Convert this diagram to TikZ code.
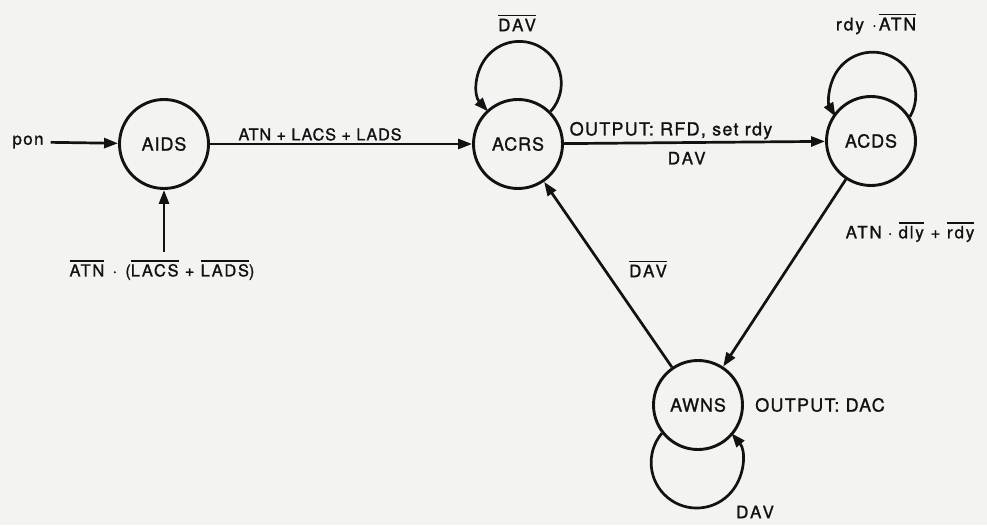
\documentclass[tikz,border=0pt]{standalone}
\usepackage{fontspec}
\setmainfont{TeX Gyre Heros}[LetterSpace=5,FakeBold=1.2]
\usetikzlibrary{arrows.meta,calc}
\definecolor{bg}{RGB}{243,243,241}
\definecolor{ink}{RGB}{18,18,18}
\newcommand\ov[1]{\leavevmode\vbox{\hrule height 1.6pt\kern 2.4pt\hbox{#1}}}
\newcommand\fsz[2]{\fontsize{#1}{#1}\selectfont\addfontfeatures{LetterSpace=#2}}
\begin{document}
\begin{tikzpicture}[x=1pt,y=1pt,
  state/.style={circle,draw=ink,line width=2.9pt,minimum size=89pt,inner sep=0pt,font=\fsz{18}{5},text=ink},
  lbl/.style={inner sep=1pt,font=\fsz{16.3}{5},text=ink},
  outl/.style={lbl,font=\fsz{18}{7}},
  davl/.style={lbl,font=\fsz{17}{14}},
  arr/.style={draw=ink,line width=2.7pt,-{Triangle[length=14pt,width=10pt]}}]
\fill[bg] (0,0) rectangle (987,525);
\useasboundingbox (0,0) rectangle (987,525);
% states
\node[state] (aids) at (164,381) {AIDS};
\node[state] (acrs) at (518,381) {ACRS};
\node[state] (acds) at (871,384) {ACDS};
\node[state] (awns) at (698,120) {AWNS};
% free labels
\node[lbl,font=\fsz{17}{8}] (pon) at (28,383) {pon};
\node[lbl,font=\fsz{16.5}{10}] (cond) at (162,255) {\ov{ATN}\hspace{2pt} · \hspace{2pt}(\ov{LACS} + \ov{LADS})};
\node[davl] (lacrs) at (517,502) {\ov{DAV}};
\node[lbl,font=\fsz{17.5}{11}] (lacds) at (876,501) {rdy\hspace{8pt}·\hspace{2pt}\ov{ATN}};
\node[lbl,font=\fsz{17}{11}] (ldown) at (910,293) {ATN\hspace{6pt}·\hspace{6pt}\ov{dly} + \ov{rdy}};
\node[davl] (lup) at (648,256) {\ov{DAV}};
\node[outl] (lout) at (820,120) {OUTPUT: DAC};
\node[davl] (lawns) at (755,13) {DAV};
% connectors
\draw[arr,shorten <=6pt] (pon) -- (aids);
\draw[arr,shorten <=7pt] (cond.north -| aids) -- (aids);
\draw[arr] (aids) -- node[lbl,pos=0.42,above=1pt]{ATN + LACS + LADS} (acrs);
\draw[arr] (acrs) -- node[outl,pos=0.41,above=1pt]{OUTPUT:\ RFD, set rdy}
                      node[davl,pos=0.47,below=7pt]{DAV} (acds);
\draw[arr] (acds) -- (awns);
\draw[arr] (awns) -- (acrs);
% self loops
\draw[arr] (acrs.45) arc[start angle=-42, end angle=222, radius=42];
\draw[arr] (acds.32) arc[start angle=-30, end angle=210, radius=43];
\draw[arr] (awns.218) arc[start angle=140, end angle=400, radius=45.5];
\end{tikzpicture}
\end{document}
